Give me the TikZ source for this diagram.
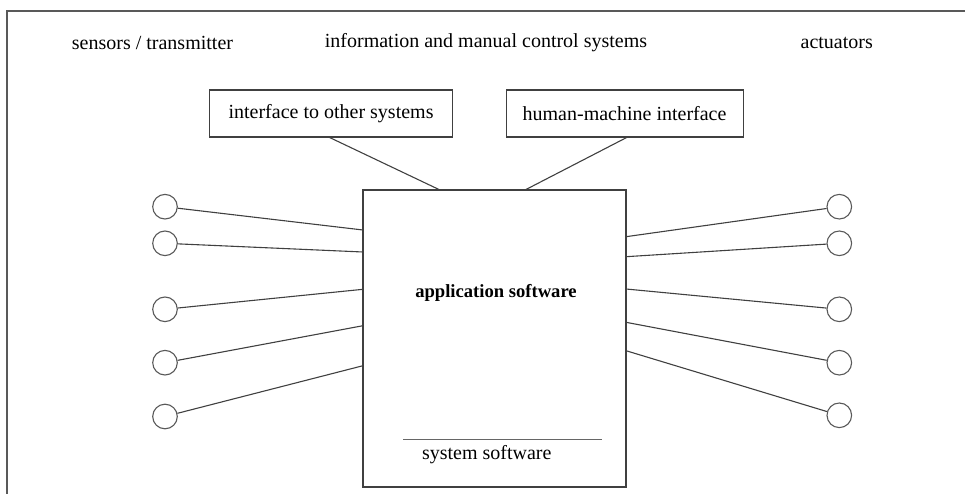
\documentclass[tikz,border=0pt]{standalone}
\usepackage{fontspec}
\setmainfont{Liberation Serif}
\begin{document}
\begin{tikzpicture}[x=1pt,y=-1pt,
  lbl/.style={font=\fontsize{20}{24}\selectfont, inner sep=0pt},
  boxed/.style={draw=black!75, line width=1.1pt, font=\fontsize{20}{24}\selectfont,
    minimum height=47pt, inner sep=0pt, anchor=north west},
  port/.style={circle, draw=black!65, line width=1.1pt, minimum size=24.6pt, inner sep=0pt},
  wire/.style={draw=black!75, line width=1.1pt}]
\useasboundingbox (0,0) rectangle (965,494);
\clip (0,0) rectangle (965,494);
% outer frame (only top and left edges fall inside)
\draw[black!65, line width=1.5pt] (7,11) rectangle (990,520);

% column headings
\node[lbl] (hs) at (152.5,43) {sensors / transmitter};
\node[lbl] (hi) at (486,43) {information and manual control systems};
\node[lbl] (ha) at (836.7,43) {actuators};

% interface boxes
\node[boxed, minimum width=243pt] (ios) at (209,89.5) {interface to other systems};
\node[boxed, minimum width=237pt] (hmi) at (505.5,89.5) {human-machine interface};

% application / system software box
\draw[black!75, line width=1.1pt] (363,190) rectangle (626,487);
\node[font=\fontsize{18.6}{22}\selectfont\bfseries, inner sep=0pt] (app) at (496,293) {application software};
\draw[black!60, line width=1.3pt] (403,439.3) -- (601.7,439.3);
\node[lbl] (sys) at (486.7,455) {system software};

% attachment points
\coordinate (t1) at (440,190);
\coordinate (t2) at (525,190);
\coordinate (b1) at (327.5,136.5);
\coordinate (b2) at (628.6,136.5);
\draw[wire] (b1) -- (t1);
\draw[wire] (b2) -- (t2);

% sensors (left)
\node[port] (s1) at (165,206.7) {};
\node[port] (s2) at (165,243.3) {};
\node[port] (s3) at (165,309.3) {};
\node[port] (s4) at (165,362.7) {};
\node[port] (s5) at (165,416.5) {};
\coordinate (ls1) at (363,230);
\coordinate (ls2) at (363,252);
\coordinate (ls3) at (363,289.3);
\coordinate (ls4) at (363,325.7);
\coordinate (ls5) at (363,365.7);
\foreach \i in {1,...,5} \draw[wire] (s\i) -- (ls\i);

% actuators (right)
\node[port] (a1) at (839.3,206.7) {};
\node[port] (a2) at (839.3,243.3) {};
\node[port] (a3) at (839.3,309.3) {};
\node[port] (a4) at (839.3,362.7) {};
\node[port] (a5) at (839.3,415.3) {};
\coordinate (ra1) at (626,236.7);
\coordinate (ra2) at (626,256.7);
\coordinate (ra3) at (626,289);
\coordinate (ra4) at (626,322.3);
\coordinate (ra5) at (626,350.7);
\foreach \i in {1,...,5} \draw[wire] (ra\i) -- (a\i);
\end{tikzpicture}
\end{document}
